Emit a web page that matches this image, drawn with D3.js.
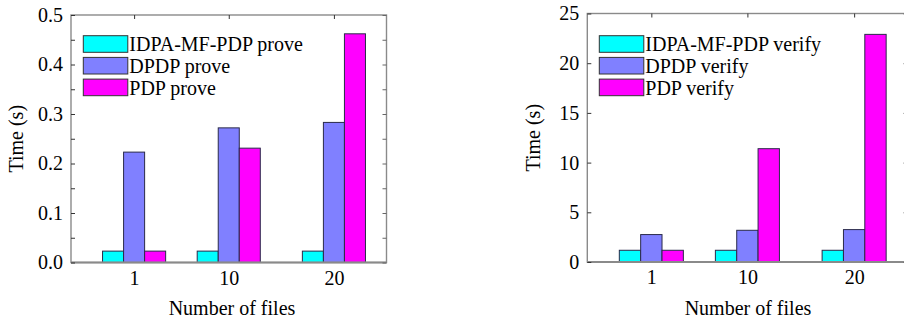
<!DOCTYPE html>
<html>
<head>
<meta charset="utf-8">
<script src="https://cdn.jsdelivr.net/npm/d3@7"></script>
<style>
  body { margin: 0; background: #fff; }
</style>
</head>
<body>
<svg id="chart" width="904" height="320"></svg>
<script>
// data
const files = [1, 10, 20];
const seriesColors = ['#00ffff', '#8080ff', '#ff00ff'];

const proveNames = ['IDPA-MF-PDP prove', 'DPDP prove', 'PDP prove'];
const proveIDPA = [0.023, 0.023, 0.023];
const proveDPDP = [0.223, 0.272, 0.283];
const provePDP = [0.023, 0.231, 0.462];
const proveTicks = [0, 0.05, 0.1, 0.15, 0.2, 0.25, 0.3, 0.35, 0.4, 0.45, 0.5];
const proveLabels = [0, 0.1, 0.2, 0.3, 0.4, 0.5];

const verifyNames = ['IDPA-MF-PDP verify', 'DPDP verify', 'PDP verify'];
const verifyIDPA = [1.18, 1.18, 1.18];
const verifyDPDP = [2.76, 3.19, 3.26];
const verifyPDP = [1.18, 11.4, 22.9];
const verifyTicks = [0, 5, 10, 15, 20, 25];

const FONT = '"Liberation Serif", "Times New Roman", serif';
const svg = d3.select('#chart');

function styleText(sel) {
  sel.style('font-family', FONT).style('font-size', '20px').attr('fill', '#000');
}

function drawPanel(opt) {
  const x = d3.scaleLinear().domain([-5, 25]).range([opt.left, opt.right]);
  const y = d3.scaleLinear().domain([0, opt.ymax]).range([opt.bottom, opt.top]);
  const g = svg.append('g');

  // bars
  const offsets = [-2, 0, 2];
  const bw = x(2) - x(0);
  opt.series.forEach((vals, si) => {
    g.selectAll(null)
      .data(vals.map((v, i) => ({ f: files[i], v })))
      .enter()
      .append('rect')
      .attr('x', d => x(d.f + offsets[si] - 1))
      .attr('y', d => y(d.v))
      .attr('width', bw)
      .attr('height', d => y(0) - y(d.v))
      .attr('fill', seriesColors[si])
      .attr('stroke', '#2a2a4a')
      .attr('stroke-width', 1);
  });

  // frame
  g.append('rect')
    .attr('x', opt.left).attr('y', opt.top)
    .attr('width', opt.right - opt.left).attr('height', opt.bottom - opt.top)
    .attr('fill', 'none').attr('stroke', '#8a8a8a').attr('stroke-width', 1.4);
  g.append('line')
    .attr('x1', opt.left).attr('x2', opt.right)
    .attr('y1', opt.bottom).attr('y2', opt.bottom)
    .attr('stroke', '#8a8a8a').attr('stroke-width', 2);

  // left axis (inward ticks)
  const yl = g.append('g').attr('transform', `translate(${opt.left},0)`)
    .call(d3.axisLeft(y).tickValues(opt.ticks).tickSizeInner(-4).tickSizeOuter(0)
      .tickPadding(8)
      .tickFormat(d => opt.labels.includes(d) ? opt.fmt(d) : ''));
  yl.select('.domain').remove();
  yl.selectAll('line').attr('stroke', '#333');
  styleText(yl.selectAll('text'));

  // right axis ticks
  const yr = g.append('g').attr('transform', `translate(${opt.right},0)`)
    .call(d3.axisRight(y).tickValues(opt.ticks).tickSizeInner(-4).tickSizeOuter(0).tickFormat(''));
  yr.select('.domain').remove();
  yr.selectAll('line').attr('stroke', '#666');

  // top ticks
  const xt = g.append('g').attr('transform', `translate(0,${opt.top})`)
    .call(d3.axisTop(x).tickValues(files).tickSizeInner(-4).tickSizeOuter(0).tickFormat(''));
  xt.select('.domain').remove();
  xt.selectAll('line').attr('stroke', '#333');

  // bottom labels
  const xb = g.append('g').attr('transform', `translate(0,${opt.bottom})`)
    .call(d3.axisBottom(x).tickValues(files).tickSize(0).tickFormat(d3.format('d')));
  xb.select('.domain').remove();
  styleText(xb.selectAll('text').attr('y', 22).attr('dy', 0));

  // axis titles
  styleText(g.append('text')
    .attr('x', opt.xTitleX).attr('y', 315)
    .attr('text-anchor', 'middle')
    .text('Number of files'));
  styleText(g.append('text')
    .attr('transform', `translate(${opt.yTitleX},${(opt.top + opt.bottom) / 2}) rotate(-90)`)
    .attr('text-anchor', 'middle')
    .text('Time (s)'));

  // legend
  const lg = g.append('g').attr('transform', `translate(${opt.legX},35.7)`);
  opt.names.forEach((n, i) => {
    lg.append('rect')
      .attr('x', 0).attr('y', i * 21.7)
      .attr('width', 44.5).attr('height', 16.6)
      .attr('fill', seriesColors[i])
      .attr('stroke', '#333').attr('stroke-width', 1);
    styleText(lg.append('text')
      .attr('x', 46).attr('y', i * 21.7 + 15.5)
      .text(n));
  });
}

drawPanel({
  left: 71, right: 386.5, top: 15, bottom: 262.5, ymax: 0.5,
  series: [proveIDPA, proveDPDP, provePDP], names: proveNames,
  ticks: proveTicks, labels: proveLabels, fmt: d3.format('.1f'),
  xTitleX: 232, yTitleX: 23, legX: 83.3
});

drawPanel({
  left: 587.3, right: 907.5, top: 13.5, bottom: 262, ymax: 25,
  series: [verifyIDPA, verifyDPDP, verifyPDP], names: verifyNames,
  ticks: verifyTicks, labels: verifyTicks, fmt: d3.format('d'),
  xTitleX: 748, yTitleX: 540, legX: 599.3
});
</script>
</body>
</html>
